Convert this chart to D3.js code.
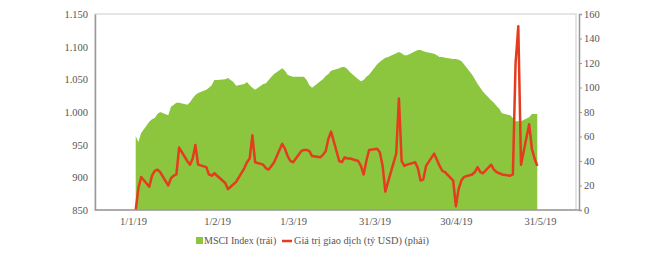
<!DOCTYPE html>
<html>
<head>
<meta charset="utf-8">
<script src="https://cdn.jsdelivr.net/npm/d3@7"></script>
<style>
	body { margin: 0; background: #fff; }
	text { font-family: "Liberation Serif", "DejaVu Serif", serif; fill: #555; }
</style>
</head>
<body>
<svg id="chart" width="671" height="253"></svg>
<script>
// trading days (d/m, 2019)
var dates = [
	"2/1","3/1","4/1","7/1","8/1","9/1","10/1","11/1","14/1","15/1","16/1","17/1","18/1","21/1","22/1","23/1","24/1","25/1","28/1","29/1","30/1","31/1",
	"1/2","4/2","5/2","6/2","7/2","8/2","11/2","12/2","13/2","14/2","15/2","18/2","19/2","20/2","21/2","22/2","25/2","26/2","27/2","28/2",
	"1/3","4/3","5/3","6/3","7/3","8/3","11/3","12/3","13/3","14/3","15/3","18/3","19/3","20/3","21/3","22/3","25/3","26/3","27/3","28/3","29/3",
	"1/4","2/4","3/4","4/4","5/4","8/4","9/4","10/4","11/4","12/4","15/4","16/4","17/4","18/4","19/4","22/4","23/4","24/4","25/4","26/4","29/4","30/4",
	"1/5","2/5","3/5","6/5","7/5","8/5","9/5","10/5","13/5","14/5","15/5","16/5","17/5","20/5","21/5","22/5","23/5","24/5","27/5","28/5","29/5","30/5"
];

// MSCI index (left axis)
var msci = [
	963,954,968,985,989,991,997,1000,995,1008,1011,1014,1014,1011,1015,1021,1026,1029,1034,1037,1041,1049,
	1049,1050,1052,1049,1046,1040,1043,1046,1041,1037,1034,1043,1044,1049,1054,1058,1067,1063,1057,1055,
	1054,1054,1054,1049,1041,1037,1047,1050,1055,1058,1063,1067,1069,1069,1066,1061,1050,1047,1049,1054,1057,
	1073,1077,1080,1083,1084,1090,1092,1090,1087,1087,1093,1095,1095,1093,1092,1089,1087,1084,1084,1083,1081,1081,
	1080,1078,1073,1057,1050,1043,1037,1031,1018,1014,1009,1005,998,995,991,986,986,986,992,997,997,997
];

// traded value, bn USD (right axis)
var tradeValue = [
	0,18,27,19,28,32,33,31,20,26,28,29,51,40,37,42,53,37,35,29,28,30,
	28,22,17,19,21,23,34,39,42,61,39,37,34,33,36,39,54,50,44,40,
	39,48,49,49,48,44,43,45,48,58,64,40,39,43,42,42,40,36,29,40,49,
	50,47,36,15,23,46,91,40,36,37,39,34,24,25,36,46,41,36,32,31,24,3,
	17,24,27,29,31,35,31,30,37,33,31,30,29,28,29,120,150,37,70,50,42,36
];

var xTickLabels = ["1/1/19", "1/2/19", "1/3/19", "31/3/19", "30/4/19", "31/5/19"];
var leftTicks = [850, 900, 950, 1000, 1050, 1100, 1150];
var rightTicks = [0, 20, 40, 60, 80, 100, 120, 140, 160];
var legendLabels = ["MSCI Index (trái)", "Giá trị giao dịch (tỷ USD) (phải)"];

var green = "#8cc63f", red = "#e53b1f";

var svg = d3.select("#chart"),
	plot = {left: 95, right: 579, top: 14, bottom: 210};

var parseDay = d3.timeParse("%d/%m/%Y"),
	parseTick = d3.timeParse("%d/%m/%y");

var data = dates.map(function(d, i) {
	return {date: parseDay(d + "/2019"), msci: msci[i], value: tradeValue[i]};
});

var x = d3.scaleTime()
	.domain([parseTick("1/1/19"), parseTick("31/5/19")])
	.range([133, 540]);

var yLeft = d3.scaleLinear().domain([850, 1150]).range([plot.bottom, plot.top]);
var yRight = d3.scaleLinear().domain([0, 160]).range([plot.bottom, plot.top]);

var vn = d3.formatLocale({decimal: ",", thousands: ".", grouping: [3], currency: ["", ""]});

// plot frame
svg.append("rect")
	.attr("x", plot.left).attr("y", plot.top)
	.attr("width", plot.right - 3 - plot.left).attr("height", plot.bottom - plot.top)
	.attr("fill", "none").attr("stroke", "#ddd").attr("stroke-width", 1.5);

// MSCI area
var area = d3.area()
	.x(d => x(d.date))
	.y0(plot.bottom)
	.y1(d => yLeft(d.msci));

svg.append("path")
	.datum(data)
	.attr("fill", green)
	.attr("d", area);

// traded value line
var line = d3.line()
	.x(d => x(d.date))
	.y(d => yRight(d.value));

svg.append("path")
	.datum(data)
	.attr("fill", "none")
	.attr("stroke", red)
	.attr("stroke-width", 2.5)
	.attr("stroke-linejoin", "round")
	.attr("d", line);

// left axis
var leftAxis = svg.append("g")
	.attr("transform", "translate(" + plot.left + ",0)")
	.call(d3.axisLeft(yLeft).tickValues(leftTicks).tickSize(0).tickPadding(7).tickFormat(vn.format(",")));

// right axis
var rightAxis = svg.append("g")
	.attr("transform", "translate(" + plot.right + ",0)")
	.call(d3.axisRight(yRight).tickValues(rightTicks).tickSize(3).tickPadding(2));

// bottom axis
var bottomAxis = svg.append("g")
	.attr("transform", "translate(0," + plot.bottom + ")")
	.call(d3.axisBottom(x).tickValues(xTickLabels.map(parseTick)).tickSize(0).tickPadding(8)
		.tickFormat((d, i) => xTickLabels[i]));
bottomAxis.select(".domain").attr("d", "M" + plot.left + ",0H" + plot.right);

[leftAxis, rightAxis, bottomAxis].forEach(function(g) {
	g.select(".domain").attr("stroke", "#999").attr("stroke-width", 1.5);
	g.selectAll(".tick line").attr("stroke", "#999");
	g.selectAll("text").attr("font-size", 10.5).attr("font-family", null).attr("fill", "#4d4d4d");
});

// legend
var legend = svg.append("g").attr("transform", "translate(0,241)");
legend.append("rect")
	.attr("x", 196).attr("y", -4).attr("width", 7).attr("height", 7)
	.attr("fill", green);
legend.append("text")
	.attr("x", 204).attr("y", 3)
	.attr("font-size", 10)
	.text(legendLabels[0]);
legend.append("line")
	.attr("x1", 282).attr("x2", 292).attr("y1", 0).attr("y2", 0)
	.attr("stroke", red).attr("stroke-width", 2.5);
legend.append("text")
	.attr("x", 294).attr("y", 3)
	.attr("font-size", 10.3)
	.text(legendLabels[1]);
</script>
</body>
</html>
